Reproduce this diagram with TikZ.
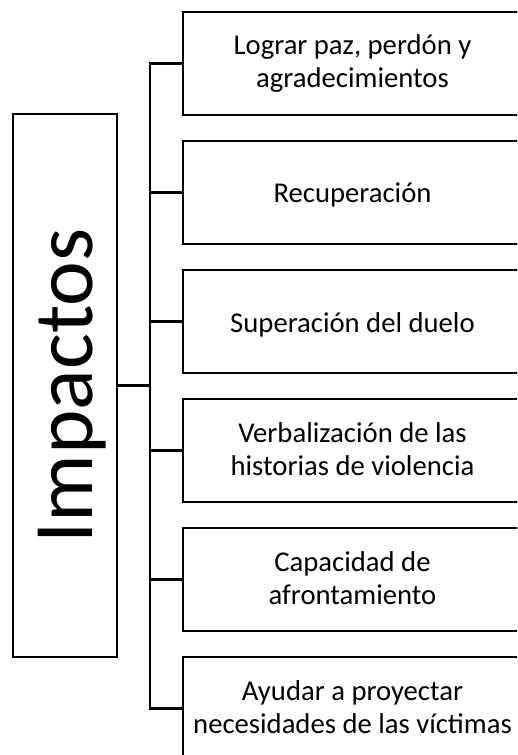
\documentclass[tikz,border=0pt]{standalone}
\usepackage{fontspec}
\setmainfont{Carlito}
\begin{document}
\begin{tikzpicture}[x=0.75pt,y=-0.75pt,
  line/.style={line width=1.6pt,line cap=rect},
  rbox/.style={draw,line width=1.6pt,minimum width=254.25pt,minimum height=77.25pt,inner sep=0pt},
  lbox/.style={draw,line width=1.6pt,minimum width=78pt,minimum height=407.25pt,inner sep=0pt},
  txt/.style={anchor=base,inner sep=0pt,font=\fontsize{21.5pt}{24.75pt}\selectfont},
  big/.style={anchor=base,inner sep=0pt,rotate=90,font=\fontsize{63.5pt}{70pt}\selectfont}]
\useasboundingbox (0,0) rectangle (517,755);
\clip (0,0) rectangle (517,755);
% left box
\node[lbox] (imp) at (65,385.5) {};
\node[big] (impt) at (92,386) {Impactos};
% right boxes
\node[rbox] (b1) at (352.5,63.5) {};
\node[rbox] (b2) at (352.5,192.5) {};
\node[rbox] (b3) at (352.5,321.5) {};
\node[rbox] (b4) at (352.5,450.5) {};
\node[rbox] (b5) at (352.5,579.5) {};
\node[rbox] (b6) at (352.5,708.5) {};
% texts
\node[txt] (t1a) at (352.5,55) {Lograr paz, perdón y};
\node[txt] (t1b) at (352.5,88) {agradecimientos};
\node[txt] (t2) at (352.5,203) {Recuperación};
\node[txt] (t3) at (352.5,332) {Superación del duelo};
\node[txt] (t4a) at (352.5,442) {Verbalización de las};
\node[txt] (t4b) at (352.5,475) {historias de violencia};
\node[txt] (t5a) at (352.5,571) {Capacidad de};
\node[txt] (t5b) at (352.5,604) {afrontamiento};
\node[txt] (t6a) at (352.5,700) {Ayudar a proyectar};
\node[txt] (t6b) at (352.5,733) {necesidades de las víctimas};
% connectors
\coordinate (tt) at (150,63.5);
\coordinate (tb) at (150,708.5);
\draw[line] (tt) -- (tb);
\draw[line] (imp.east) -- (imp.east -| tt);
\foreach \i in {1,...,6}{\draw[line] (b\i.west) -- (b\i.west -| tt);}
\end{tikzpicture}
\end{document}
